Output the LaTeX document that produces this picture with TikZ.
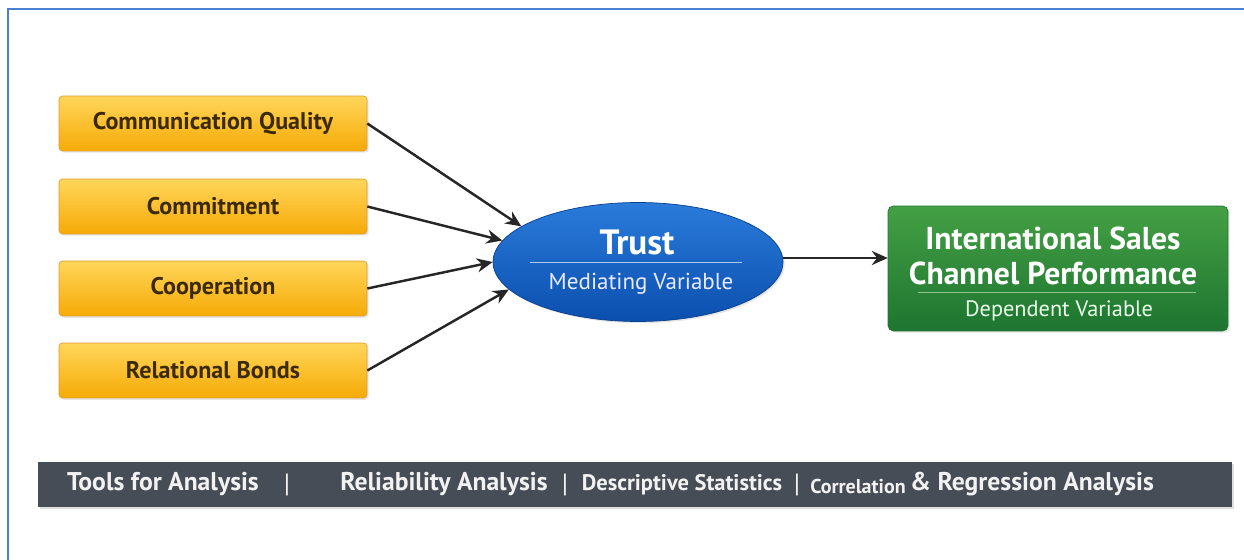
\documentclass[tikz,border=0pt]{standalone}
\usepackage{fontspec}
\setmainfont{PT Sans}
\usetikzlibrary{shapes.geometric,shadows,arrows.meta}
\definecolor{framebl}{HTML}{4A7FD4}
\definecolor{boxtop}{HTML}{FFD65A}
\definecolor{boxbot}{HTML}{F6AA06}
\definecolor{boxedge}{HTML}{E39A2C}
\definecolor{boxtext}{HTML}{3B2A05}
\definecolor{trusttop}{HTML}{2A7BDA}
\definecolor{trustbot}{HTML}{0B4FAE}
\definecolor{perftop}{HTML}{44A044}
\definecolor{perfbot}{HTML}{1D7530}
\definecolor{barfill}{HTML}{464D56}
\definecolor{bartext}{HTML}{F2F2F2}
\tikzset{
  factor/.style={draw=boxedge, rounded corners=2pt, top color=boxtop, bottom color=boxbot,
    minimum width=6.16cm, minimum height=1.1cm, text=boxtext,
    font=\fontsize{13.7}{16}\selectfont\bfseries,
    drop shadow={opacity=0.2, shadow xshift=1pt, shadow yshift=-1pt}},
  link/.style={-{Stealth[length=9pt,width=8pt]}, line width=1.4pt, black!85},
  bartxt/.style={text=bartext, font=\fontsize{14.6}{17}\selectfont\bfseries},
  barsep/.style={text=bartext!85, font=\fontsize{15}{17}\selectfont},
}
\begin{document}
\begin{tikzpicture}[x=0.02cm,y=-0.02cm]
\useasboundingbox (0,0) rectangle (1244,560);
% frame
\draw[framebl, line width=1.2pt] (8,560) -- (8,9) -- (1244,9);
% antecedents
\node[factor] (cq) at (213,123.5) {Communication Quality};
\node[factor] (cm) at (213,206.5) {Commitment};
\node[factor] (co) at (213,288.5) {Cooperation};
\node[factor] (rb) at (213,370.5) {Relational Bonds};
% mediator
\node[ellipse, minimum width=5.8cm, minimum height=2.38cm, top color=trusttop, bottom color=trustbot,
  draw=trustbot!80!black, drop shadow={opacity=0.2, shadow xshift=1pt, shadow yshift=-1pt}] (trust) at (638,262) {};
\draw[trusttop!40!white, line width=0.5pt] (530,262) -- (742,262);
\node[text=white, font=\fontsize{20}{23}\selectfont\bfseries] (trustlbl) at (637,242) {Trust};
\node[text=white!92!blue, font=\fontsize{13.1}{15}\selectfont] (medlbl) at (641,284) {Mediating Variable};
% outcome
\node[draw=perfbot, rounded corners=3pt, top color=perftop, bottom color=perfbot,
  minimum width=6.8cm, minimum height=2.5cm,
  drop shadow={opacity=0.2, shadow xshift=1pt, shadow yshift=-1pt}] (perf) at (1058,268.5) {};
\draw[perftop!60!white, line width=0.5pt] (918,292) -- (1196,292);
\node[text=white, font=\fontsize{18}{20}\selectfont\bfseries, align=center] (perflbl) at (1053,256)
  {International Sales\\Channel Performance};
\node[text=white!92!green, font=\fontsize{12.7}{15}\selectfont] (deplbl) at (1059,311) {Dependent Variable};
% connectors
\draw[link] (cq.east) -- (trust.163);
\draw[link] (cm.east) -- (trust.171);
\draw[link] (co.east) -- (trust.180);
\draw[link] (rb.east) -- (trust.192);
\draw[link] (trust.east |- 0,258) -- (perf.west |- 0,258);
% analysis bar
\node[fill=barfill, minimum width=23.88cm, minimum height=0.9cm, inner sep=0pt,
  drop shadow={opacity=0.25, shadow xshift=1pt, shadow yshift=-1pt}] (bar) at (635,484.5) {};
\node[bartxt] (tools) at (163,484) {Tools for Analysis};
\node[barsep] (sep1) at (287,485) {|};
\node[bartxt] (rel) at (444,484) {Reliability Analysis};
\node[barsep] (sep2) at (565,485) {|};
\node[bartxt, font=\fontsize{12.8}{15}\selectfont\bfseries] (desc) at (682,485) {Descriptive Statistics};
\node[barsep] (sep3) at (797,485) {|};
\node[bartxt, font=\fontsize{11.4}{12}\selectfont\bfseries] (corr) at (858,486) {Correlation};
\node[bartxt] (regr) at (1032,484) {\& Regression Analysis};
\end{tikzpicture}
\end{document}
